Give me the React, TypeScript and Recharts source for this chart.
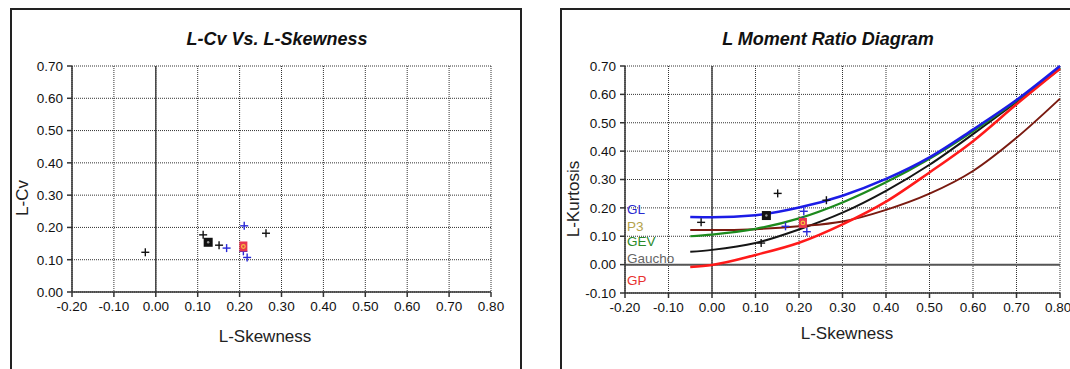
import React from 'react';
import {
  ComposedChart, Scatter, Line, XAxis, YAxis, CartesianGrid, ReferenceLine, ReferenceDot,
} from 'recharts';

const skewTicks = [-0.2, -0.1, 0, 0.1, 0.2, 0.3, 0.4, 0.5, 0.6, 0.7, 0.8];
const lcvTicks = [0, 0.1, 0.2, 0.3, 0.4, 0.5, 0.6, 0.7];
const kurtTicks = [-0.1, 0, 0.1, 0.2, 0.3, 0.4, 0.5, 0.6, 0.7];

// sites (black crosses)
const blackSkew = [-0.025, 0.113, 0.151, 0.263];
const blackLcv = [0.123, 0.177, 0.145, 0.182];
const blackKurt = [0.149, 0.076, 0.251, 0.227];

// sites (blue crosses)
const blueSkew = [0.169, 0.211, 0.209, 0.218];
const blueLcv = [0.136, 0.205, 0.126, 0.107];
const blueKurt = [0.135, 0.188, 0.155, 0.116];

// regional average (black square) and weighted average (red square)
const meanSkew = [0.125];
const meanLcv = [0.154];
const meanKurt = [0.173];
const redSkew = [0.209];
const redLcv = [0.141];
const redKurt = [0.147];

// theoretical curves
const tau3 = [-0.05, 0, 0.1, 0.2, 0.3, 0.4, 0.5, 0.6, 0.7, 0.8];
const glKurt = [0.168, 0.167, 0.174, 0.201, 0.243, 0.302, 0.378, 0.476, 0.58, 0.7];
const gevKurt = [0.1, 0.106, 0.126, 0.163, 0.219, 0.29, 0.373, 0.47, 0.577, 0.695];
const gauchoKurt = [0.045, 0.052, 0.076, 0.124, 0.183, 0.26, 0.352, 0.46, 0.573, 0.69];
const gpKurt = [-0.008, -0.001, 0.034, 0.077, 0.142, 0.222, 0.325, 0.435, 0.565, 0.69];
const p3Kurt = [0.122, 0.122, 0.125, 0.135, 0.152, 0.193, 0.25, 0.33, 0.447, 0.585];

const curveNames = ['GL', 'P3', 'GEV', 'Gaucho', 'GP'];
const curveLabelY = [0.195, 0.135, 0.083, 0.024, -0.055];
const curveLabelColors = ['#2a2ad0', '#b4a24a', '#2a8a2a', '#666666', '#e83030'];

const font = '"Liberation Sans", Arial, sans-serif';

const pts = (xs: number[], ys: number[]) => xs.map((x, i) => ({ x, y: ys[i] }));

const Plus = (p: any) => {
  const { cx, cy, color } = p;
  return (
    <g>
      <line x1={cx - 4} y1={cy} x2={cx + 4} y2={cy} stroke={color} strokeWidth={1.4} />
      <line x1={cx} y1={cy - 4} x2={cx} y2={cy + 4} stroke={color} strokeWidth={1.4} />
    </g>
  );
};

const BlackSquare = (p: any) => (
  <g>
    <rect x={p.cx - 4.5} y={p.cy - 4.5} width={9} height={9} fill="#111" />
    <circle cx={p.cx} cy={p.cy} r={1.2} fill="#999" />
  </g>
);

const RedSquare = (p: any) => (
  <g>
    <rect x={p.cx - 4} y={p.cy - 5} width={8} height={10} fill="#e8364f" />
    <circle cx={p.cx} cy={p.cy} r={1.8} fill="none" stroke="#f5c040" strokeWidth={1.2} />
  </g>
);

const fmt = (v: number) => v.toFixed(2);
const tickStyle = { fontSize: 13.5, fill: '#111', fontFamily: font };

const Title = ({ text, cx }: { text: string; cx: number }) => (
  <div style={{
    position: 'absolute', left: cx - 150, top: 29, width: 300, textAlign: 'center',
    fontFamily: font, fontWeight: 'bold', fontStyle: 'italic', fontSize: 18, lineHeight: '20px', color: '#111',
  }}>{text}</div>
);

const AxisTitle = ({ text, cx, cy, rotate }: { text: string; cx: number; cy: number; rotate?: boolean }) => (
  <div style={{
    position: 'absolute', left: cx, top: cy, whiteSpace: 'nowrap',
    transform: `translate(-50%, -50%)${rotate ? ' rotate(-90deg)' : ''}`,
    fontFamily: font, fontSize: 17, lineHeight: '20px', color: '#222',
  }}>{text}</div>
);

const LeftChart = () => (
  <div style={{ position: 'absolute', left: 10, top: 8 }}>
    <ComposedChart width={510} height={361} margin={{ top: 58, right: 29, bottom: 47, left: 12 }}>
      <CartesianGrid stroke="#333" strokeDasharray="1 1" />
      <XAxis type="number" dataKey="x" domain={[-0.2, 0.8]} ticks={skewTicks} tickFormatter={fmt}
        tick={tickStyle} tickSize={5} tickMargin={4} stroke="#333" strokeWidth={1.5} height={30} />
      <YAxis type="number" dataKey="y" domain={[0, 0.7]} ticks={lcvTicks} tickFormatter={fmt}
        tick={tickStyle} tickSize={5} tickMargin={4} stroke="#333" strokeWidth={1.5} width={50} />
      <ReferenceLine x={0} stroke="#444" strokeWidth={1.5} />
      <Scatter data={pts(blackSkew, blackLcv)} isAnimationActive={false} shape={(p: any) => <Plus {...p} color="#111" />} />
      <Scatter data={pts(blueSkew, blueLcv)} isAnimationActive={false} shape={(p: any) => <Plus {...p} color="#2a2ad8" />} />
      <Scatter data={pts(meanSkew, meanLcv)} isAnimationActive={false} shape={(p: any) => <BlackSquare {...p} />} />
      <Scatter data={pts(redSkew, redLcv)} isAnimationActive={false} shape={(p: any) => <RedSquare {...p} />} />
    </ComposedChart>
  </div>
);

const RightChart = () => (
  <div style={{ position: 'absolute', left: 560, top: 8 }}>
    <ComposedChart width={510} height={361} margin={{ top: 58, right: 10, bottom: 46, left: 13 }}>
      <CartesianGrid stroke="#333" strokeDasharray="1 1" />
      <XAxis type="number" dataKey="x" domain={[-0.2, 0.8]} ticks={skewTicks} tickFormatter={fmt}
        tick={tickStyle} tickSize={5} tickMargin={4} stroke="#333" strokeWidth={1.5} height={30} />
      <YAxis type="number" dataKey="y" domain={[-0.1, 0.7]} ticks={kurtTicks} tickFormatter={fmt}
        tick={tickStyle} tickSize={5} tickMargin={4} stroke="#333" strokeWidth={1.5} width={52} />
      <ReferenceLine x={0} stroke="#444" strokeWidth={1.5} />
      <ReferenceLine y={0} stroke="#555" strokeWidth={2} />
      <Line data={pts(tau3, gauchoKurt)} dataKey="y" type="monotone" stroke="#151515" strokeWidth={2} dot={false} isAnimationActive={false} />
      <Line data={pts(tau3, p3Kurt)} dataKey="y" type="monotone" stroke="#7a1a10" strokeWidth={2} dot={false} isAnimationActive={false} />
      <Line data={pts(tau3, gevKurt)} dataKey="y" type="monotone" stroke="#1d8a1d" strokeWidth={2.2} dot={false} isAnimationActive={false} />
      <Line data={pts(tau3, gpKurt)} dataKey="y" type="monotone" stroke="#ff1a1a" strokeWidth={2.5} dot={false} isAnimationActive={false} />
      <Line data={pts(tau3, glKurt)} dataKey="y" type="monotone" stroke="#1c1ce6" strokeWidth={2.6} dot={false} isAnimationActive={false} />
      <Scatter data={pts(blackSkew, blackKurt)} isAnimationActive={false} shape={(p: any) => <Plus {...p} color="#111" />} />
      <Scatter data={pts(blueSkew, blueKurt)} isAnimationActive={false} shape={(p: any) => <Plus {...p} color="#2a2ad8" />} />
      <Scatter data={pts(meanSkew, meanKurt)} isAnimationActive={false} shape={(p: any) => <BlackSquare {...p} />} />
      <Scatter data={pts(redSkew, redKurt)} isAnimationActive={false} shape={(p: any) => <RedSquare {...p} />} />
      {curveNames.map((name, i) => (
        <ReferenceDot key={name} x={-0.2} y={curveLabelY[i]} r={0} fill="none" stroke="none" ifOverflow="visible"
          label={{ value: name, position: 'right', offset: 2, fill: curveLabelColors[i], fontSize: 13.5, fontFamily: font }} />
      ))}
    </ComposedChart>
  </div>
);

export default function App() {
  return (
    <div style={{ position: 'absolute', left: 0, top: 0, width: 1070, height: 369, background: '#fff', overflow: 'hidden' }}>
      <div style={{ position: 'absolute', left: 10, top: 8, width: 508, height: 400, border: '2px solid #222' }} />
      <div style={{ position: 'absolute', left: 560, top: 8, width: 520, height: 400, border: '2px solid #222' }} />
      <LeftChart />
      <RightChart />
      <Title text="L-Cv Vs. L-Skewness" cx={277} />
      <Title text="L Moment Ratio Diagram" cx={828} />
      <AxisTitle text="L-Skewness" cx={265} cy={337} />
      <AxisTitle text="L-Skewness" cx={847} cy={334} />
      <AxisTitle text="L-Cv" cx={23} cy={198} rotate />
      <AxisTitle text="L-Kurtosis" cx={574} cy={199} rotate />
    </div>
  );
}
